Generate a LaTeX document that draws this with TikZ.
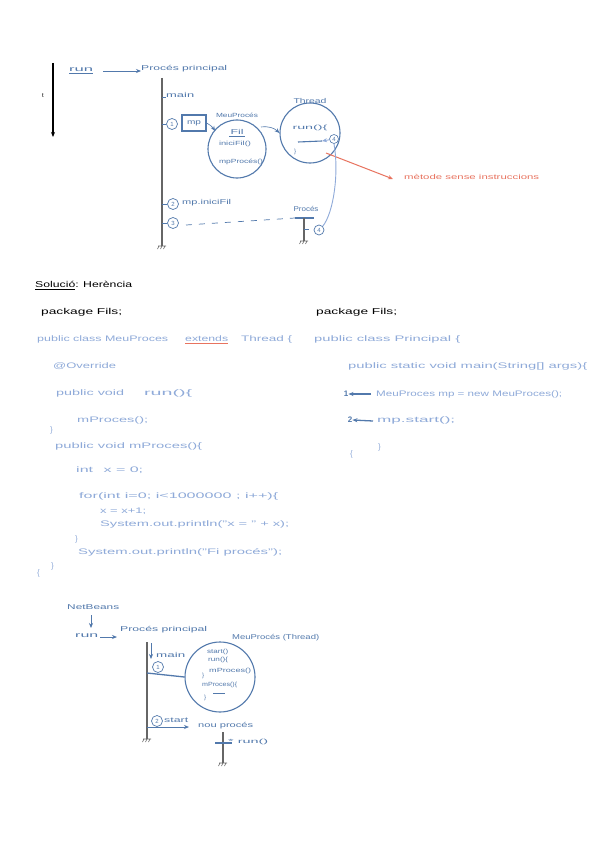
\documentclass[tikz,border=0pt]{standalone}
\usepackage{fontspec}
\setmainfont{Liberation Sans}
\usetikzlibrary{arrows.meta}
\definecolor{dblue}{HTML}{5279AC}
\definecolor{lblue}{HTML}{8FAAD9}
\definecolor{gline}{HTML}{666666}
\definecolor{rednote}{HTML}{E8735F}
\newcommand{\fw}[2]{\resizebox{#1pt}{\height}{#2}}
\tikzset{
  every node/.style={inner sep=0pt},
  dtxt/.style={text=dblue, font=\fontsize{7}{8}\selectfont},
  stxt/.style={text=dblue, font=\fontsize{6}{7}\selectfont},
  ctxt/.style={text=lblue, font=\fontsize{8}{9}\selectfont, anchor=west},
  btxt/.style={text=black, font=\fontsize{8.5}{9}\selectfont, anchor=west},
  num/.style={circle, draw=dblue, text=dblue, font=\fontsize{6}{6}\selectfont, inner sep=0pt, minimum size=11pt, line width=0.7pt},
  lifeline/.style={draw=gline, line width=2.4pt},
  blu/.style={draw=dblue, line width=0.8pt},
  arr/.style={-{Stealth[length=5pt,width=4pt]}},
  ground/.pic={\draw[gline, line width=0.6pt] (-4,0) -- (4,0) (-3,0) -- (-4.5,3) (0,0) -- (-1.5,3) (3,0) -- (1.5,3);}
}
\begin{document}
\begin{tikzpicture}[x=1pt,y=-1pt]
\useasboundingbox[fill=white] (0,0) rectangle (600,848);

% ---------- top diagram ----------
\coordinate (t0) at (53,63);
\coordinate (t1) at (53,137);
\draw[black, line width=1.1pt, arr] (t0) -- (t1);
\node[font=\fontsize{6}{6}\selectfont] (tl) at (43,96) {t};

\node[dtxt, anchor=west] (run1) at (69,70) {\fw{24}{run}};
\draw[blu, line width=1pt] (69,74) -- (93,74);
\node[dtxt, anchor=west] (pp1) at (141,69) {\fw{86}{Procés principal}};
\draw[blu, arr] (103,71) -- (pp1.west |- 0,71);

\coordinate (m0) at (162,78);
\coordinate (m1) at (162,246);
\draw[lifeline] (m0) -- (m1);
\pic at (m1) {ground};
\node[dtxt, anchor=west] (mainl) at (166,95) {\fw{28}{main}};
\draw[blu, line width=0.5pt] (162,97) -- (166,97);

\node[num] (n1) at (172,124) {1};
\draw[blu, line width=0.5pt] (162,124) -- (n1.west);
\node[draw=dblue, line width=1.1pt, dtxt, minimum width=24pt, minimum height=16pt] (mp) at (194,123) {\fw{14}{mp}};
\node[draw=dblue, line width=1.1pt, circle, minimum size=58pt] (fil) at (237,149) {};
\node[stxt] (meup) at (237,115) {\fw{42}{MeuProcés}};
\node[dtxt] (filt) at (237,132) {\fw{13}{Fil}};
\draw[blu, line width=0.7pt] (229,136.5) -- (245,136.5);
\node[stxt] (inif) at (235,144) {\fw{32}{iniciFil()}};
\node[stxt] (mpp) at (241,162) {\fw{44}{mpProcés()}};
\draw[blu, arr, line width=0.6pt] (mp.east) to[bend left=15] (215,131);

\node[draw=dblue, line width=1.1pt, circle, minimum size=60pt] (thr) at (310,133) {};
\node[dtxt] (thrt) at (310,101) {\fw{33}{Thread}};
\draw[blu, arr, line width=0.6pt] (261,127) to[bend left=25] (thr.west);
\node[stxt] (runt) at (310,128) {\fw{35}{run()\{}};
\node[stxt] (cbt) at (295,152) {\}};
\coordinate (e0) at (298,142);
\coordinate (e1) at (322,141);
\draw[dblue, line width=1.1pt] (e0) -- (e1);
\node[num, draw=dblue, text=dblue, minimum size=9pt, line width=0.6pt] (n4a) at (334,139) {4};
\draw[draw=lblue, line width=0.9pt, arr] (n4a) -- (e1);

\coordinate (r0) at (326,153);
\coordinate (r1) at (393,179);
\draw[rednote, line width=1pt, arr] (r0) -- (r1);
\node[text=rednote, font=\fontsize{7}{8}\selectfont, anchor=west] (note) at (404,177) {\fw{135}{mètode sense instruccions}};

\node[num] (n2) at (173,204) {2};
\draw[blu, line width=0.5pt] (162,204) -- (n2.west);
\node[dtxt, anchor=west] (mpini) at (182,203) {\fw{49}{mp.iniciFil}};
\node[num] (n3) at (173,223) {3};
\draw[blu, line width=0.5pt] (162,223) -- (n3.west);

\node[dtxt] (proc) at (306,209) {\fw{25}{Procés}};
\coordinate (pb0) at (295,218);
\coordinate (pb1) at (314,218);
\draw[dblue, line width=1.1pt] (pb0) -- (pb1);
\coordinate (pv1) at (304,241);
\draw[gline, line width=1.6pt] (304,218) -- (pv1);
\pic at (pv1) {ground};
\draw[dblue, dash pattern=on 6pt off 7pt, line width=0.7pt] (186,225) -- (pb0);
\node[num, minimum size=10pt] (n4b) at (319,230) {4};
\draw[blu, line width=0.5pt] (304,229) -- (309,229);
\draw[draw=lblue, line width=0.9pt] (n4b.north east) .. controls (334,212) and (339,172) .. (n4a.south);

% ---------- solution text ----------
\node[btxt] (sol) at (35,284) {\fw{97}{Solució: Herència}};
\draw[black, line width=0.7pt] (35,289) -- (75,289);

\node[btxt] (pk1) at (41,312) {\fw{81}{package Fils;}};
\node[ctxt] (c1a) at (37,339) {\fw{131}{public class MeuProces}};
\node[ctxt] (c1b) at (185,339) {\fw{43}{extends}};
\draw[rednote, line width=0.9pt] (c1b.south west) ++(0,1.5) -- ++(43,0);
\node[ctxt] (c1c) at (241,339) {\fw{51}{Thread \{}};
\node[ctxt] (c2) at (53,366) {\fw{63}{@Override}};
\node[ctxt] (c3a) at (56,393) {\fw{68}{public void}};
\node[ctxt] (c3b) at (144,393) {\fw{48}{run()\{}};
\node[ctxt] (c4) at (77,420) {\fw{71}{mProces();}};
\node[ctxt] (c5) at (50,430) {\}};
\node[ctxt] (c6) at (55,446) {\fw{147}{public void mProces()\{}};
\node[ctxt] (c7) at (76,470) {\fw{67}{int \hspace{3pt}x = 0;}};
\node[ctxt] (c8) at (79,496) {\fw{199}{for(int i=0; i<1000000 ; i++)\{}};
\node[ctxt] (c9) at (100,511) {\fw{46}{x = x+1;}};
\node[ctxt] (c10) at (100,524) {\fw{189}{System.out.println("x = " + x);}};
\node[ctxt] (c11) at (75,539) {\}};
\node[ctxt] (c12) at (78,552) {\fw{204}{System.out.println("Fi procés");}};
\node[ctxt] (c13) at (37,573) {\{};
\node[ctxt] (c14) at (51,566) {\}};

\node[btxt] (pk2) at (316,312) {\fw{81}{package Fils;}};
\node[ctxt] (d1) at (314,339) {\fw{146}{public class Principal \{}};
\node[ctxt] (d2) at (348,366) {\fw{239}{public static void main(String[] args)\{}};
\node[text=dblue, font=\fontsize{8}{9}\selectfont\bfseries] (k1) at (346,394) {1};
\node[ctxt] (d3) at (376,394) {\fw{186}{MeuProces mp = new MeuProces();}};
\draw[dblue, line width=1.3pt, arr] (371,394) -- (k1.east);
\node[text=dblue, font=\fontsize{8}{9}\selectfont\bfseries] (k2) at (350,420) {2};
\node[ctxt] (d4) at (377,420) {\fw{78}{mp.start();}};
\draw[dblue, line width=1.3pt, arr] (373,421) -- (k2.east);
\node[ctxt] (d5) at (378,447) {\}};
\node[ctxt] (d6) at (350,454) {\{};

% ---------- bottom diagram ----------
\node[dtxt, anchor=west] (nb) at (67,607) {\fw{52}{NetBeans}};
\draw[blu, arr, line width=0.7pt] (91,615) -- (91,628);
\node[dtxt, anchor=west] (run2) at (75,636) {\fw{23}{run}};
\node[dtxt, anchor=west] (pp2) at (120,630) {\fw{87}{Procés principal}};
\draw[blu, line width=1pt, arr] (100,637) -- (117,637);

\coordinate (b0) at (147,642);
\coordinate (b1) at (147,739);
\draw[lifeline] (b0) -- (b1);
\pic at (b1) {ground};
\draw[blu, arr, line width=0.7pt] (151,643) -- (151,659);
\node[dtxt, anchor=west] (main2) at (156,655) {\fw{29}{main}};
\node[num] (m1n) at (158,667) {1};

\node[draw=dblue, line width=1.1pt, circle, minimum size=70pt] (mpc) at (220,677) {};
\node[dtxt, anchor=west] (mpct) at (232,638) {\fw{87}{MeuProcés (Thread)}};
\draw[blu, line width=1.3pt] (147,673) -- (mpc.west);
\node[stxt, anchor=west] (s1) at (207,652) {\fw{21}{start()}};
\node[stxt, anchor=west] (s2) at (208,660) {\fw{20}{run()\{}};
\node[stxt, anchor=west] (s3) at (209,671) {\fw{42}{mProces()}};
\node[stxt] (s4) at (203,676) {\}};
\node[stxt, anchor=west] (s5) at (202,685) {\fw{35}{mProces()\{}};
\draw[blu, line width=0.6pt] (213,693) -- (225,693);
\node[stxt] (s6) at (205,698) {\}};

\node[num] (m2n) at (157,721) {2};
\node[dtxt, anchor=west] (st) at (164,720) {\fw{24}{start}};
\node[dtxt, anchor=west] (nou) at (198,726) {\fw{55}{nou procés}};
\draw[blu, line width=1pt, arr] (147,727) -- (189,727);
\coordinate (v0) at (223,732);
\coordinate (v1) at (223,763);
\draw[gline, line width=1.5pt] (v0) -- (v1);
\pic at (v1) {ground};
\draw[blu, line width=1.1pt] (215,743) -- (232,743);
\node[stxt, anchor=west] (runn) at (228,742) {\fw{40}{* run()}};
\end{tikzpicture}
\end{document}
